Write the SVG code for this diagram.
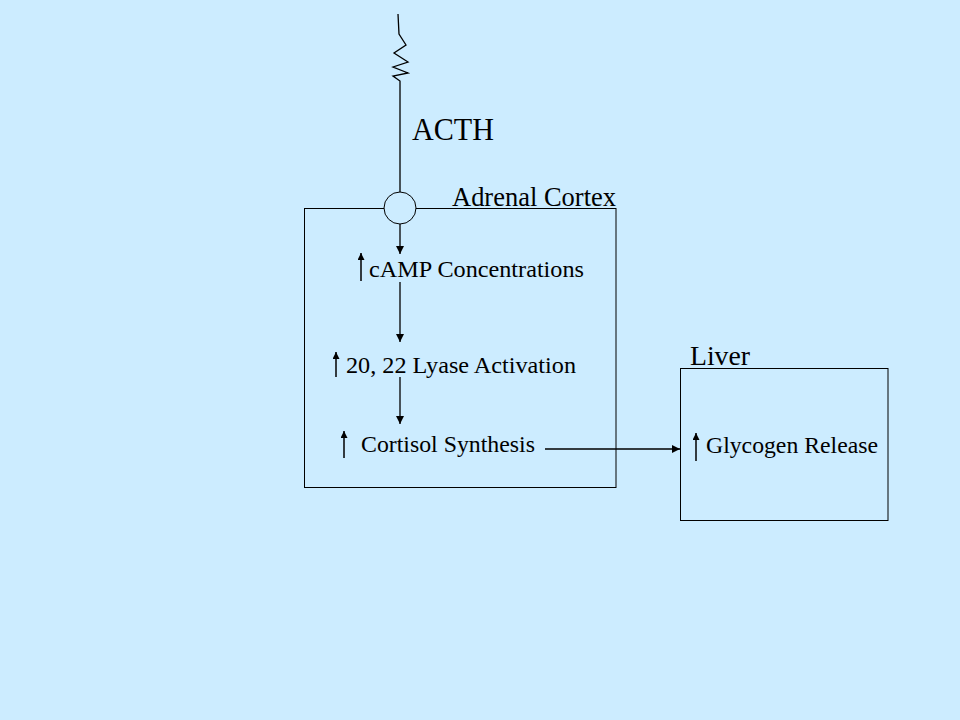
<svg xmlns="http://www.w3.org/2000/svg" width="960" height="720" viewBox="0 0 960 720">
<defs>
<marker id="ah" viewBox="0 0 10 10" refX="10" refY="5" markerWidth="8" markerHeight="8" markerUnits="userSpaceOnUse" orient="auto"><path d="M0,0 L10,5 L0,10 z" fill="#000"/></marker>
<marker id="up" viewBox="0 0 10 10" refX="10" refY="5" markerWidth="7" markerHeight="7" markerUnits="userSpaceOnUse" orient="auto"><path d="M0,0 L10,5 L0,10 z" fill="#000"/></marker>
</defs>
<style>
.t{font-family:"Liberation Serif","Times New Roman",serif;fill:#000}
.box{fill:none;stroke:#000;stroke-width:1}
.ln{fill:none;stroke:#000;stroke-width:1.3}
.ua{stroke:#000;stroke-width:1.5;marker-end:url(#up)}
</style>
<rect width="960" height="720" fill="#CCECFF"/>
<g id="adrenal-cortex">
<rect class="box" x="304.5" y="208.5" width="311.5" height="279"/>
<text class="t" x="452" y="206" font-size="27" textLength="164" lengthAdjust="spacingAndGlyphs">Adrenal Cortex</text>
</g>
<g id="liver">
<rect class="box" x="680.5" y="368.5" width="207.5" height="152"/>
<text class="t" x="690" y="365" font-size="27" textLength="60" lengthAdjust="spacingAndGlyphs">Liver</text>
</g>
<g id="acth">
<text class="t" x="412" y="140" font-size="32" textLength="82" lengthAdjust="spacingAndGlyphs">ACTH</text>
</g>
<g id="receptor">
<circle cx="400" cy="208" r="16" fill="#CCECFF" stroke="#000" stroke-width="1"/>
</g>
<g id="camp">
<line class="ua" x1="361" y1="281" x2="361" y2="253"/>
<text class="t" x="369" y="277" font-size="23" textLength="215" lengthAdjust="spacingAndGlyphs">cAMP Concentrations</text>
</g>
<g id="lyase">
<line class="ua" x1="336" y1="377" x2="336" y2="352"/>
<text class="t" x="346" y="373" font-size="23" textLength="230" lengthAdjust="spacingAndGlyphs">20, 22 Lyase Activation</text>
</g>
<g id="cortisol">
<line class="ua" x1="344" y1="458" x2="344" y2="431"/>
<text class="t" x="361" y="452" font-size="23" textLength="174" lengthAdjust="spacingAndGlyphs">Cortisol Synthesis</text>
</g>
<g id="glycogen">
<line class="ua" x1="696" y1="461" x2="696" y2="433"/>
<text class="t" x="706" y="453" font-size="23" textLength="172" lengthAdjust="spacingAndGlyphs">Glycogen Release</text>
</g>
<g id="connectors">
<polyline class="ln" points="398,14 399,34 406,45 394,53 408,62 393,67 408,73 393,76 400,81 400,192"/>
<line class="ln" x1="400" y1="224" x2="400" y2="254" marker-end="url(#ah)"/>
<line class="ln" x1="400" y1="282" x2="400" y2="342" marker-end="url(#ah)"/>
<line class="ln" x1="400" y1="377" x2="400" y2="424" marker-end="url(#ah)"/>
<line class="ln" x1="545" y1="449" x2="680" y2="449" marker-end="url(#ah)"/>
</g>
</svg>
